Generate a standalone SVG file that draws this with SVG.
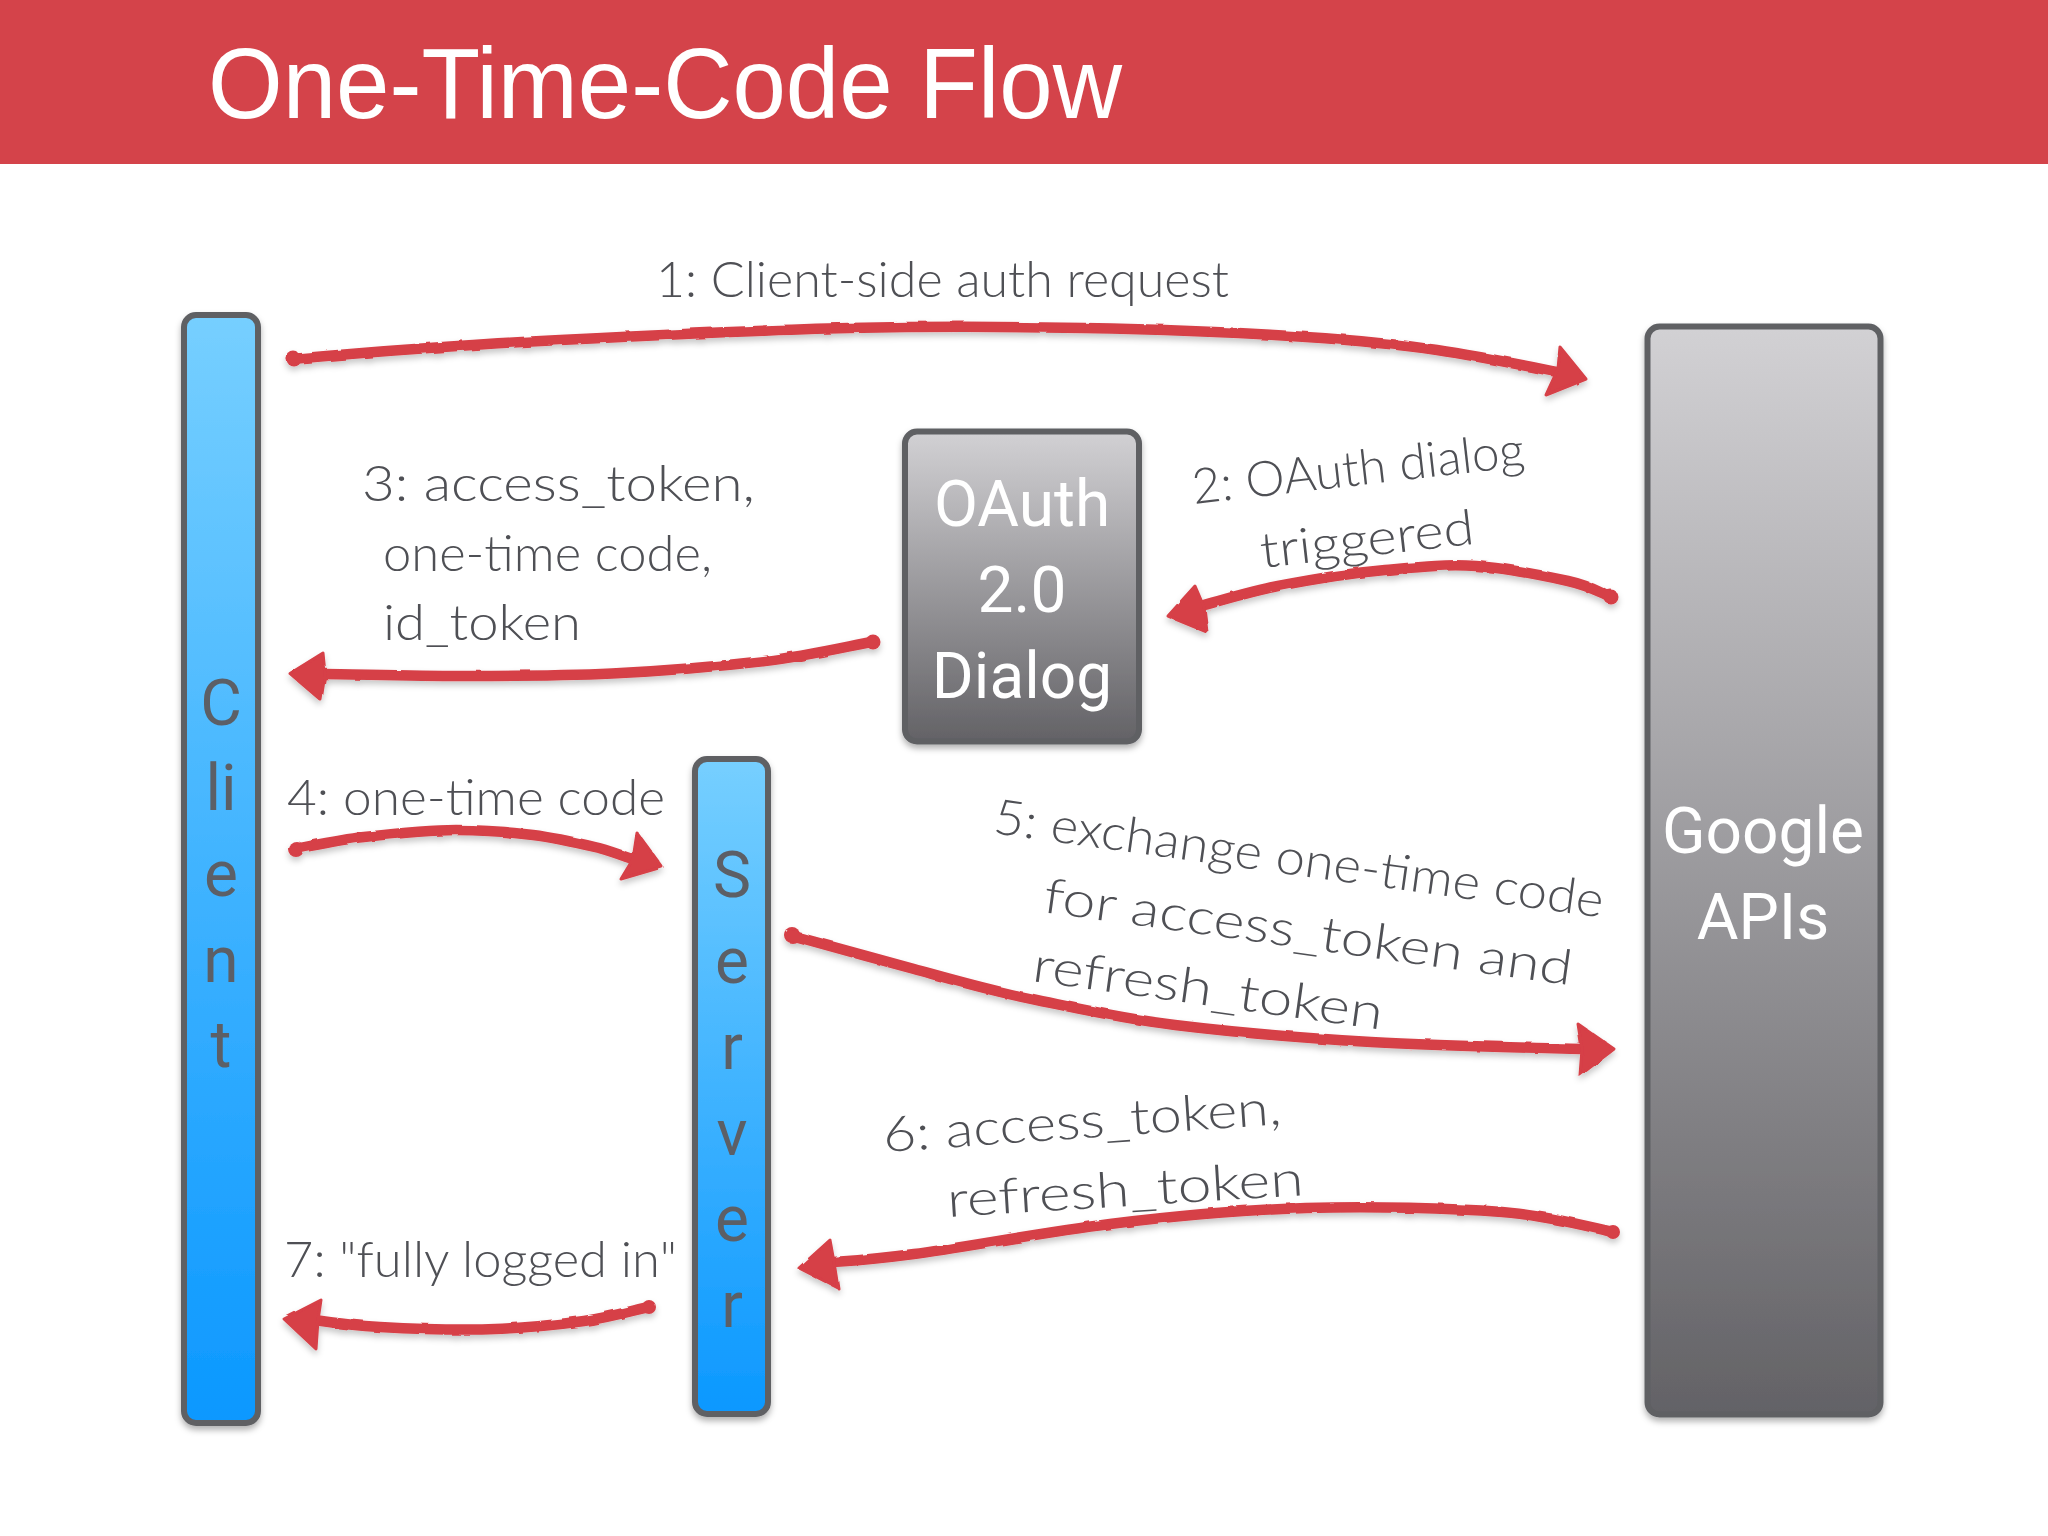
<svg xmlns="http://www.w3.org/2000/svg" width="2048" height="1536" viewBox="0 0 2048 1536">
  <style>
    .bar { stroke: #5f6064; stroke-width: 6; filter: url(#shadow); }
    .big { font-family: Roboto, "Liberation Sans", sans-serif; font-size: 64px; text-anchor: middle; }
    .light { fill: #ffffff; }
    .dark { fill: #5c5f66; }
    .hand { font-family: Lato, "Open Sans", sans-serif; font-weight: 300; font-size: 49px; fill: #4f5055; }
    .line { fill: none; stroke: #d63f47; stroke-width: 10.5; stroke-linecap: round; stroke-linejoin: round; }
    .head { fill: #d63f47; stroke: #d63f47; stroke-width: 3; stroke-linejoin: round; }
    .blob { fill: #d63f47; }
  </style>
  <defs>
    <linearGradient id="blue" x1="0" y1="0" x2="0" y2="1">
      <stop offset="0" stop-color="#76cfff"/>
      <stop offset="1" stop-color="#0b98ff"/>
    </linearGradient>
    <linearGradient id="gray" x1="0" y1="0" x2="0" y2="1">
      <stop offset="0" stop-color="#d2d1d4"/>
      <stop offset="1" stop-color="#636266"/>
    </linearGradient>
    <filter id="shadow" x="-20%" y="-5%" width="140%" height="110%">
      <feDropShadow dx="0" dy="4" stdDeviation="3" flood-color="#000000" flood-opacity="0.3"/>
    </filter>
    <filter id="rough" x="-5%" y="-20%" width="110%" height="140%">
      <feTurbulence type="fractalNoise" baseFrequency="0.06" numOctaves="2" seed="4" result="n"/>
      <feDisplacementMap in="SourceGraphic" in2="n" scale="3" result="d"/>
      <feDropShadow in="d" dx="0" dy="4" stdDeviation="3" flood-color="#000000" flood-opacity="0.22"/>
    </filter>
  </defs>

  <rect id="title-band" x="0" y="0" width="2048" height="164" fill="#d4434a"/>
  <text id="title" x="208" y="118" font-family="'Liberation Sans', Arial, sans-serif" font-size="100" fill="#ffffff" textLength="914" lengthAdjust="spacingAndGlyphs">One-Time-Code Flow</text>

  <g id="client">
    <rect class="bar" x="184" y="315" width="74" height="1108" rx="12" fill="url(#blue)"/>
    <text class="big dark" x="221" y="725">C</text>
    <text class="big dark" x="221" y="810">li</text>
    <text class="big dark" x="221" y="896">e</text>
    <text class="big dark" x="221" y="982">n</text>
    <text class="big dark" x="221" y="1067">t</text>
  </g>
  <g id="server">
    <rect class="bar" x="695" y="759" width="73" height="655" rx="12" fill="url(#blue)"/>
    <text class="big dark" x="732" y="897">S</text>
    <text class="big dark" x="732" y="983">e</text>
    <text class="big dark" x="732" y="1069">r</text>
    <text class="big dark" x="732" y="1155">v</text>
    <text class="big dark" x="732" y="1241">e</text>
    <text class="big dark" x="732" y="1327">r</text>
  </g>
  <g id="oauth-dialog">
    <rect class="bar" x="905" y="431.5" width="234" height="310" rx="12" fill="url(#gray)"/>
    <text class="big light" x="1022" y="526">OAuth</text>
    <text class="big light" x="1022" y="612">2.0</text>
    <text class="big light" x="1022" y="698">Dialog</text>
  </g>
  <g id="google-apis">
    <rect class="bar" x="1647.5" y="326.5" width="233" height="1088" rx="12" fill="url(#gray)"/>
    <text class="big light" x="1763" y="853">Google</text>
    <text class="big light" x="1763" y="939">APIs</text>
  </g>

  <g id="connectors" filter="url(#rough)">
    <g id="arrow-1">
      <circle class="blob" cx="294" cy="359" r="7.500"/>
      <path class="line" d="M292 359C326 356 427 347 522 342C617 337 755 330 849 328C943 326 1008 326.5 1084 328C1160 329.5 1247 333 1306 337C1365 341 1396 344 1437 350C1478 356 1537 368 1557 372"/>
      <path class="head" d="M1586 379L1560 347L1558 369L1546 395Z"/>
    </g>
    <g id="arrow-2">
      <circle class="blob" cx="1611" cy="597" r="7.500"/>
      <path class="line" d="M1611 597C1603 594 1591 586 1568 581C1545 576 1506 568 1476 566C1445 564 1418 567 1385 570C1352 573 1309 580 1278 586C1247 592 1213 603 1200 606"/>
      <path class="head" d="M1168 616L1195 586L1204 607L1207 632Z"/>
    </g>
    <g id="arrow-3">
      <circle class="blob" cx="873" cy="642" r="7.500"/>
      <path class="line" d="M872 642C854 645 808 656 765 661C722 666 663 671 612 673.5C561 676 507 676 459 676C411 676 347 674 325 674"/>
      <path class="head" d="M290 673.5L323 653L325 674L321 700Z"/>
    </g>
    <g id="arrow-4">
      <circle class="blob" cx="296" cy="849" r="8"/>
      <path class="line" d="M295 849C307 847 337 840 364 837C391 834 428 830 456 830C484 830 509 832 533 835C557 838 582 844 599 848C615 852.5 626 857 632 859"/>
      <path class="head" d="M662 867L637 833L633 859L621 879Z"/>
    </g>
    <g id="arrow-5">
      <circle class="blob" cx="792" cy="935" r="8"/>
      <path class="line" d="M790 935C811 941 874 958 914 969C954 980 988 990 1032 999C1076 1008 1118 1018 1175 1025C1232 1032 1303 1038 1371 1042C1439 1046 1545 1048 1585 1049"/>
      <path class="head" d="M1614 1049L1578 1024L1582 1049L1580 1075Z"/>
    </g>
    <g id="arrow-6">
      <circle class="blob" cx="1613" cy="1232" r="7"/>
      <path class="line" d="M1613 1232C1597 1229 1554 1216 1502 1212C1450 1208 1371 1206 1306 1208C1241 1210 1175 1216 1110 1224C1045 1232 960 1248 914 1254C868 1260 847 1261 834 1262"/>
      <path class="head" d="M799 1268L830 1240L834 1262L838 1288Z"/>
    </g>
    <g id="arrow-7">
      <circle class="blob" cx="649" cy="1307" r="7"/>
      <path class="line" d="M649 1307C638 1309 612 1317 584 1321C556 1325 516 1328.500 482 1329.500C448 1330 407 1328.500 380 1327C353 1325.500 328 1322 318 1320.500"/>
      <path class="head" d="M284 1319L321 1300L318 1320L316 1349Z"/>
    </g>
  </g>

  <g id="labels">
    <text class="hand" x="656" y="297" textLength="573" lengthAdjust="spacingAndGlyphs">1: Client-side auth request</text>
    <text class="hand" transform="translate(1194 504) rotate(-6.500)" textLength="334" lengthAdjust="spacingAndGlyphs">2: OAuth dialog</text>
    <text class="hand" transform="translate(1262 568) rotate(-6.500)" textLength="215" lengthAdjust="spacingAndGlyphs">triggered</text>
    <text class="hand" x="362" y="501" textLength="393" lengthAdjust="spacingAndGlyphs">3: access_token,</text>
    <text class="hand" x="383" y="571" textLength="329" lengthAdjust="spacingAndGlyphs">one-time code,</text>
    <text class="hand" x="383" y="640" textLength="198" lengthAdjust="spacingAndGlyphs">id_token</text>
    <text class="hand" x="287" y="815" textLength="378" lengthAdjust="spacingAndGlyphs">4: one-time code</text>
    <text class="hand" transform="translate(992 833) rotate(7.900)" textLength="615" lengthAdjust="spacingAndGlyphs">5: exchange one-time code</text>
    <text class="hand" transform="translate(1042 912) rotate(7.900)" textLength="533" lengthAdjust="spacingAndGlyphs">for access_token and</text>
    <text class="hand" transform="translate(1031 981) rotate(7.900)" textLength="353" lengthAdjust="spacingAndGlyphs">refresh_token</text>
    <text class="hand" transform="translate(884 1152) rotate(-4)" textLength="399" lengthAdjust="spacingAndGlyphs">6: access_token,</text>
    <text class="hand" transform="translate(948 1217) rotate(-3.500)" textLength="357" lengthAdjust="spacingAndGlyphs">refresh_token</text>
    <text class="hand" x="284" y="1277" textLength="393" lengthAdjust="spacingAndGlyphs">7: "fully logged in"</text>
  </g>
</svg>
